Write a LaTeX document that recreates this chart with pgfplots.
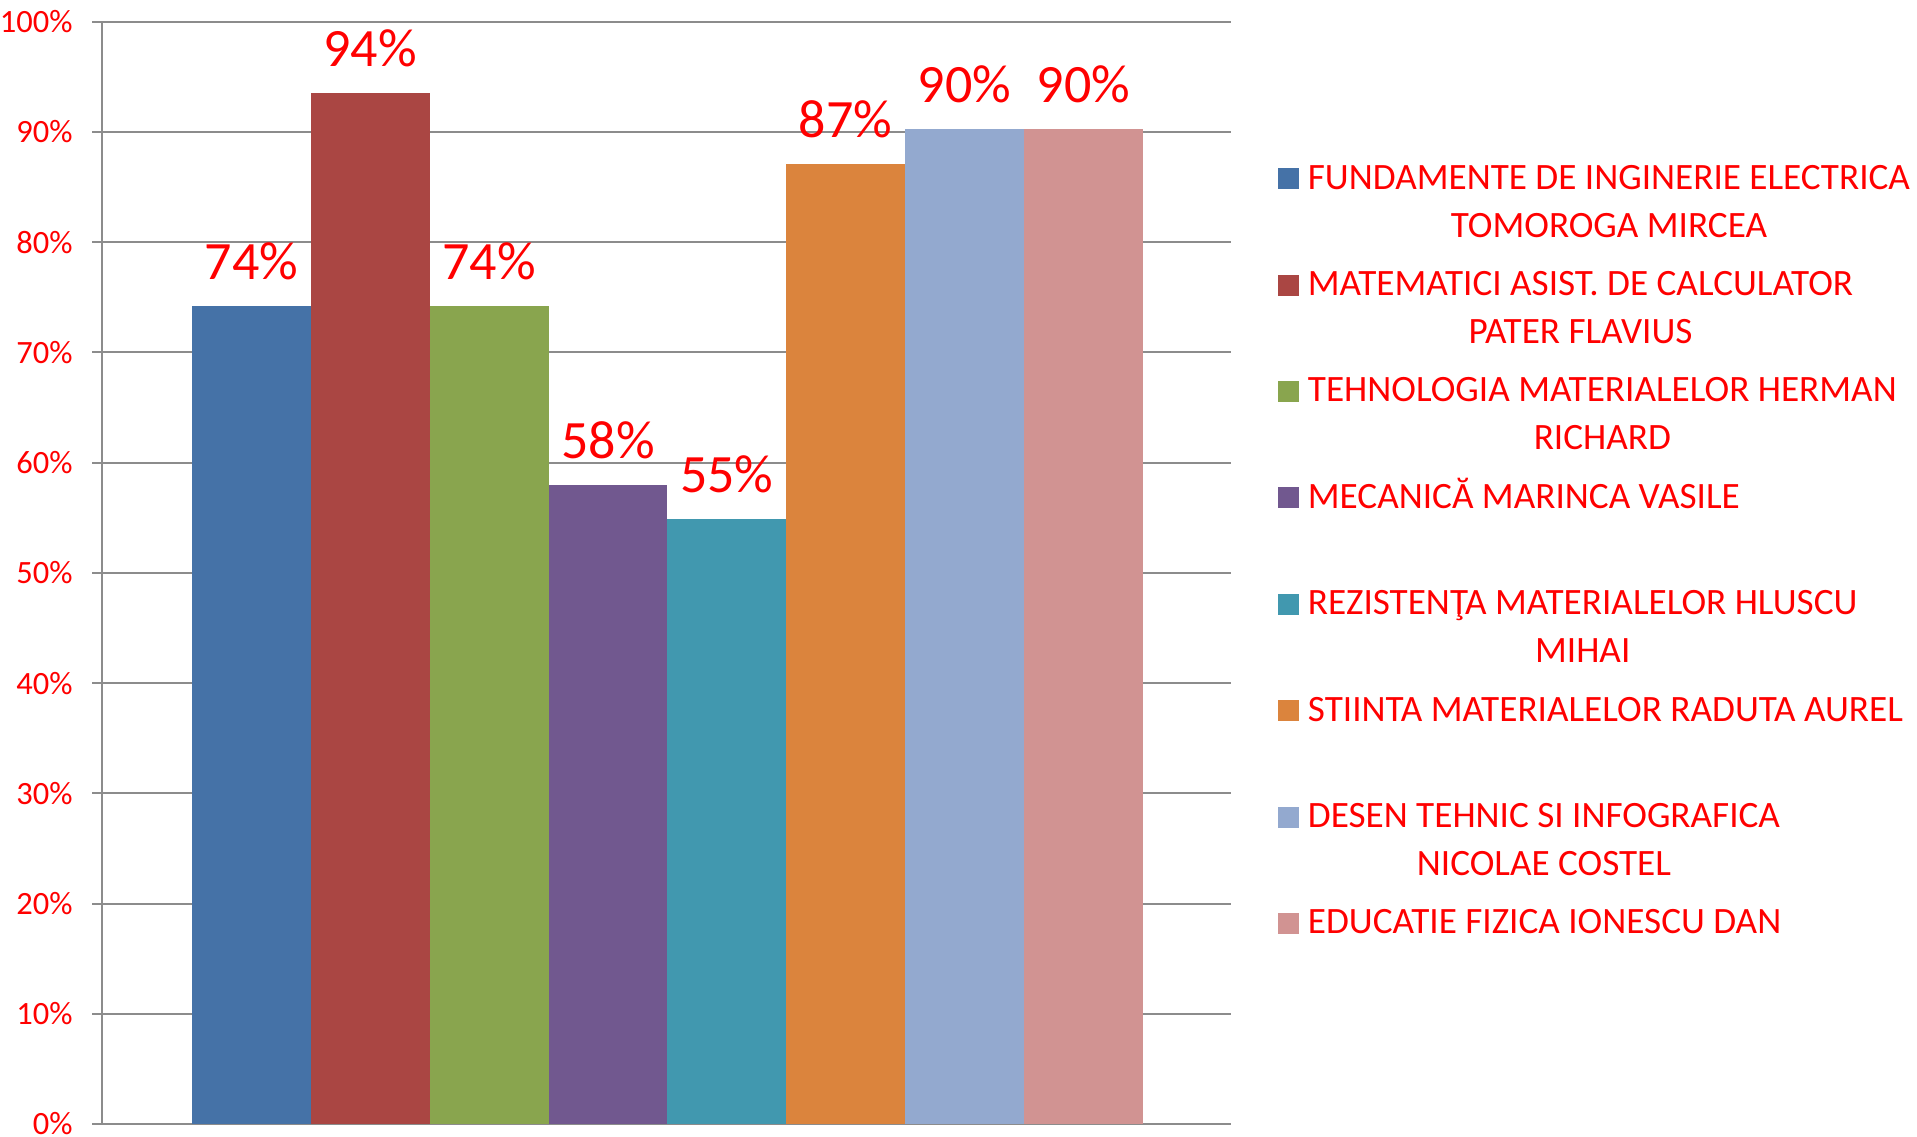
\documentclass[border=0pt]{standalone}
\usepackage{fontspec}
\setmainfont{Carlito}
\usepackage{pgfplots}
\pgfplotsset{compat=1.18}
\definecolor{c1}{HTML}{4572A7}
\definecolor{c2}{HTML}{AA4643}
\definecolor{c3}{HTML}{89A54E}
\definecolor{c4}{HTML}{71588F}
\definecolor{c5}{HTML}{4198AF}
\definecolor{c6}{HTML}{DB843D}
\definecolor{c7}{HTML}{93A9CF}
\definecolor{c8}{HTML}{D19392}
\definecolor{gridc}{HTML}{8C8C8C}
\definecolor{txtred}{HTML}{FF0000}
\newcommand\tickfont{\fontsize{16.25pt}{18pt}\selectfont}
\newcommand\datafont{\fontsize{27pt}{30pt}\selectfont}
\newcommand\legfont{\fontsize{18.6pt}{24pt}\selectfont}
\pgfplotsset{mybar/.style={ybar, bar width=1, bar shift=0pt, draw=none, fill=#1,
  legend image code/.code={\fill[fill=#1, draw=none] (0pt,0pt) rectangle (10.5pt,10.5pt);}}}
\begin{document}
\begin{tikzpicture}
\useasboundingbox (-51.15pt,-6pt) rectangle (907.35pt,562pt);
\begin{axis}[
  at={(0pt,0pt)}, anchor=south west,
  scale only axis, width=564.35pt, height=551.15pt,
  xmin=-0.255, xmax=9.243, ymin=0, ymax=100,
  axis lines*=left,
  xtick=\empty,
  ytick={0,10,...,100},
  yticklabels={0\%,10\%,20\%,30\%,40\%,50\%,60\%,70\%,80\%,90\%,100\%},
  tick align=outside, major tick length=5pt,
  ytick style={draw=gridc, line width=1pt},
  axis line style={draw=gridc, line width=1pt},
  ymajorgrids, grid style={draw=gridc, line width=1pt},
  yticklabel style={font=\tickfont, text=txtred, inner sep=0pt, anchor=east, xshift=-9.65pt},
  clip=false,
  nodes near coords, point meta=explicit symbolic,
  nodes near coords style={font=\datafont, text=txtred, anchor=base, inner sep=0pt, yshift=13.3pt},
  legend style={at={(rel axis cs:1.04191,0.87353)}, anchor=north west, draw=none, fill=none,
    inner sep=0pt, outer sep=0pt, column sep=4.3pt, row sep=0pt, font=\legfont, text=txtred,
    cells={anchor=base west}, nodes={inner sep=0pt, text height=14pt, text depth=39.2pt}},
]
\addplot[mybar=c1] coordinates {(1,74.2) [74\%]};
\addlegendentry{\begin{tabular}[t]{@{}c@{}}FUNDAMENTE DE INGINERIE ELECTRICA\\TOMOROGA MIRCEA\end{tabular}}
\addplot[mybar=c2] coordinates {(2,93.5) [94\%]};
\addlegendentry{\begin{tabular}[t]{@{}c@{}}MATEMATICI ASIST. DE CALCULATOR\\PATER FLAVIUS\end{tabular}}
\addplot[mybar=c3] coordinates {(3,74.2) [74\%]};
\addlegendentry{\begin{tabular}[t]{@{}c@{}}TEHNOLOGIA MATERIALELOR HERMAN\\RICHARD\end{tabular}}
\addplot[mybar=c4] coordinates {(4,58.0) [58\%]};
\addlegendentry{MECANICĂ MARINCA VASILE}
\addplot[mybar=c5] coordinates {(5,54.9) [55\%]};
\addlegendentry{\begin{tabular}[t]{@{}c@{}}REZISTENŢA MATERIALELOR HLUSCU\\MIHAI\end{tabular}}
\addplot[mybar=c6] coordinates {(6,87.1) [87\%]};
\addlegendentry{STIINTA MATERIALELOR RADUTA AUREL}
\addplot[mybar=c7] coordinates {(7,90.3) [90\%]};
\addlegendentry{\begin{tabular}[t]{@{}c@{}}DESEN TEHNIC SI INFOGRAFICA\\NICOLAE COSTEL\end{tabular}}
\addplot[mybar=c8] coordinates {(8,90.3) [90\%]};
\addlegendentry{EDUCATIE FIZICA IONESCU DAN}
\end{axis}
\end{tikzpicture}
\end{document}
